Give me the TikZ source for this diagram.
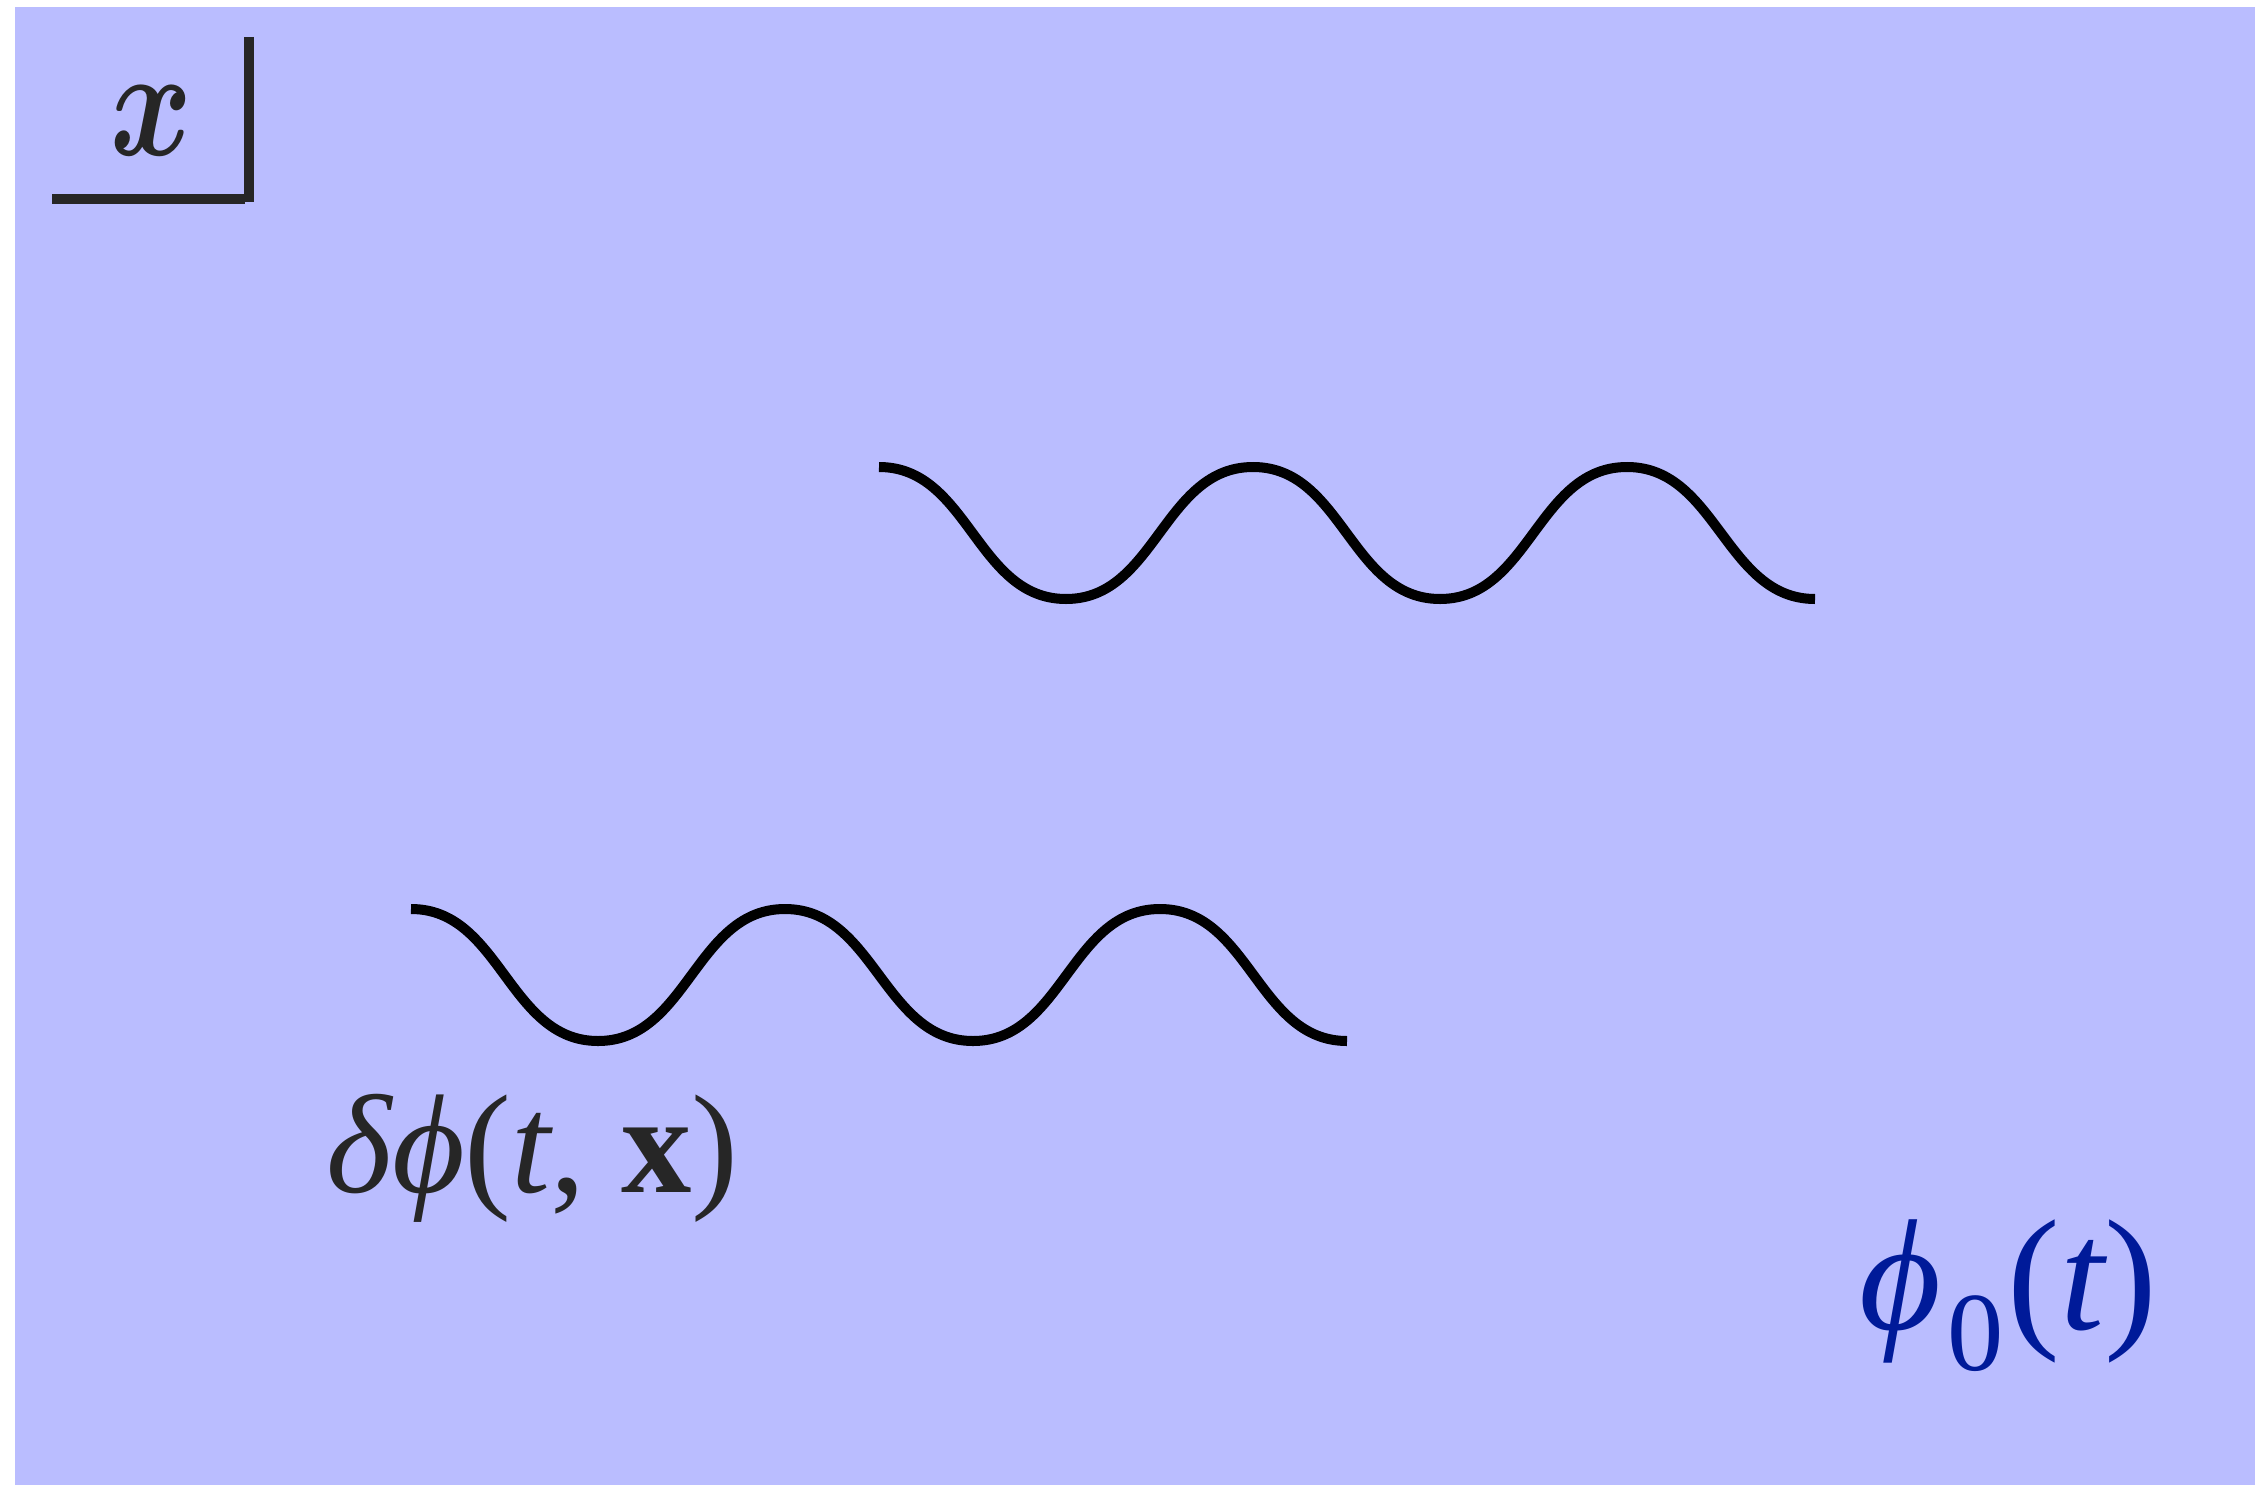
\documentclass[tikz,border=0pt]{standalone}
\usepackage{amsmath}
\usepackage{fontspec}
\setmainfont{Liberation Serif}
\definecolor{bgblue}{RGB}{186,189,255}
\definecolor{axgray}{RGB}{38,38,38}
\definecolor{labblue}{RGB}{0,26,153}
\tikzset{
  axisline/.style={draw=axgray, line width=0.1cm},
  wave/.style={draw=black, line width=0.1cm, line cap=butt},
  lab/.style={inner sep=0pt, anchor=base west, font=\fontsize{40}{48}\selectfont}
}
\begin{document}
\begin{tikzpicture}[x=0.01cm, y=-0.01cm]
  \useasboundingbox (0,0) rectangle (2255,1485);
  \fill[white] (0,0) rectangle (2255,1485);
  \fill[bgblue] (15,7) rectangle (2255,1485);
  % axis corner
  \draw[axisline] (249,37) -- (249,202);
  \draw[axisline] (52,199) -- (245,199);
  \node[lab, text=axgray, font=\fontsize{12}{14}\selectfont] (xlab) at (110,156) {\scalebox{2.95}[3.7]{$\boldsymbol{x}$}};
  % waves
  \draw[wave] (879,467) to[out=0,in=180] (1066,599) to[out=0,in=180] (1253,467)
     to[out=0,in=180] (1440,599) to[out=0,in=180] (1627,467) to[out=0,in=180] (1815,599);
  \draw[wave] (411,909) to[out=0,in=180] (598,1041) to[out=0,in=180] (785,909)
     to[out=0,in=180] (973,1041) to[out=0,in=180] (1160,909) to[out=0,in=180] (1347,1041);
  % labels
  \node[lab, text=axgray] (dphi) at (326,1192) {{\itshape δϕ}({\itshape t}, \textbf{x})};
  \node[lab, text=labblue, font=\fontsize{45}{54}\selectfont] (phi0) at (1859,1329)
    {{\itshape ϕ}\kern0.04em\raisebox{-0.26em}{\fontsize{32}{38}\selectfont 0}\kern0.02em({\itshape t})};
\end{tikzpicture}
\end{document}
